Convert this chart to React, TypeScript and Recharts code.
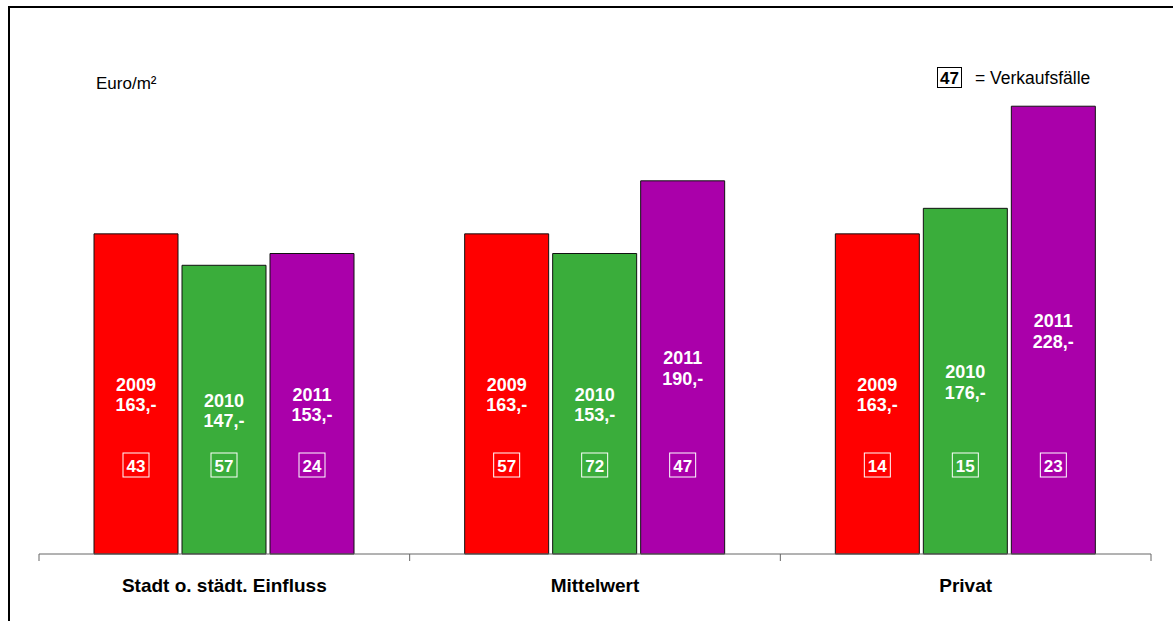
import React from 'react';
import { BarChart, Bar, XAxis, YAxis, LabelList } from 'recharts';

const categories = ['Stadt o. städt. Einfluss', 'Mittelwert', 'Privat'];
const years = ['2009', '2010', '2011'];
const values2009 = [163, 163, 163];
const values2010 = [147, 153, 176];
const values2011 = [153, 190, 228];
const cases2009 = [43, 57, 14];
const cases2010 = [57, 72, 15];
const cases2011 = [24, 47, 23];
const colors = ['#FF0000', '#3AAD3B', '#AA00AA'];

const data = categories.map((c, i) => ({
  name: c,
  v2009: values2009[i],
  v2010: values2010[i],
  v2011: values2011[i],
  n2009: cases2009[i],
  n2010: cases2010[i],
  n2011: cases2011[i],
}));

const FONT = '"Liberation Sans", Arial, sans-serif';

const makeLabel = (year: string, cases: number[]) => (props: any) => {
  const { x, y, width, height, value, index } = props;
  const cx = x + width / 2;
  const cy = y + height / 2;
  const boxY = y + height - 89;
  return (
    <g>
      <text x={cx} y={cy - 3} textAnchor="middle" fill="#fff" fontFamily={FONT} fontWeight="bold" fontSize={18}>
        {year}
      </text>
      <text x={cx} y={cy + 17.5} textAnchor="middle" fill="#fff" fontFamily={FONT} fontWeight="bold" fontSize={18}>
        {`${value},-`}
      </text>
      <rect x={cx - 13} y={boxY - 12} width={26} height={24} fill="none" stroke="#fff" strokeWidth={1} />
      <text x={cx} y={boxY + 6.5} textAnchor="middle" fill="#fff" fontFamily={FONT} fontWeight="bold" fontSize={17}>
        {cases[index]}
      </text>
    </g>
  );
};

const CategoryTick = (props: any) => {
  const { x, y, payload, index, width } = props;
  const band = (width || 1112) / categories.length;
  const left = x - band / 2;
  return (
    <g>
      <line x1={left} y1={y} x2={left} y2={y + 7} stroke="#666" strokeWidth={1} />
      {index === categories.length - 1 && (
        <line x1={x + band / 2} y1={y} x2={x + band / 2} y2={y + 7} stroke="#666" strokeWidth={1} />
      )}
      <text x={x} y={y + 38} textAnchor="middle" fill="#000" fontFamily={FONT} fontWeight="bold" fontSize={19}>
        {payload.value}
      </text>
    </g>
  );
};

export default function App() {
  return (
    <div style={{ position: 'absolute', left: 0, top: 0, width: 1173, height: 621, background: '#fff' }}>
      <svg width={1173} height={621} style={{ position: 'absolute', left: 0, top: 0 }}>
        <line x1={9} y1={7} x2={1173} y2={7} stroke="#000" strokeWidth={2} />
        <line x1={9} y1={6} x2={9} y2={621} stroke="#000" strokeWidth={2} />
        <text x={96} y={89} fontFamily={FONT} fontSize={17} fill="#000">Euro/m²</text>
        <rect x={937.5} y={67.5} width={24} height={20} fill="none" stroke="#000" strokeWidth={1} />
        <text x={949.5} y={84} textAnchor="middle" fontFamily={FONT} fontWeight="bold" fontSize={17} fill="#000">47</text>
        <text x={975} y={84} fontFamily={FONT} fontSize={17.5} fill="#000">= Verkaufsfälle</text>
      </svg>
      <div style={{ position: 'absolute', left: 0, top: 0 }}>
        <BarChart
          width={1173}
          height={621}
          data={data}
          margin={{ top: 63, right: 22, bottom: 27, left: 39 }}
          barCategoryGap={55}
          barGap={4}
        >
          <YAxis hide domain={[0, 250]} />
          <XAxis
            dataKey="name"
            height={40}
            tickSize={0}
            tickMargin={0}
            tickLine={false}
            axisLine={{ stroke: '#666', strokeWidth: 1 }}
            tick={<CategoryTick />}
            interval={0}
          />
          <Bar dataKey="v2009" fill={colors[0]} stroke="#111" strokeWidth={1} isAnimationActive={false}>
            <LabelList dataKey="v2009" content={makeLabel(years[0], cases2009)} />
          </Bar>
          <Bar dataKey="v2010" fill={colors[1]} stroke="#111" strokeWidth={1} isAnimationActive={false}>
            <LabelList dataKey="v2010" content={makeLabel(years[1], cases2010)} />
          </Bar>
          <Bar dataKey="v2011" fill={colors[2]} stroke="#111" strokeWidth={1} isAnimationActive={false}>
            <LabelList dataKey="v2011" content={makeLabel(years[2], cases2011)} />
          </Bar>
        </BarChart>
      </div>
    </div>
  );
}
